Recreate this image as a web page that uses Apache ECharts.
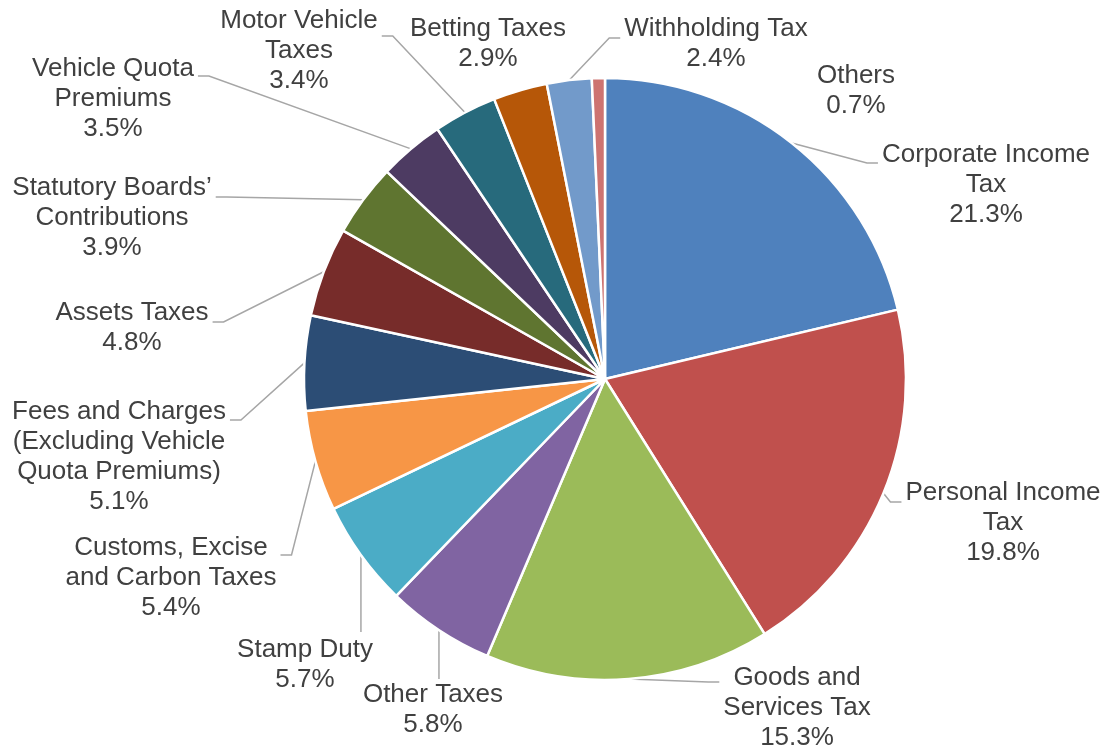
<!DOCTYPE html>
<html><head><meta charset="utf-8">
<script src="https://cdn.jsdelivr.net/npm/echarts@6/dist/echarts.min.js"></script>
<style>html,body{margin:0;padding:0;background:#fff}#c{width:1107px;height:754px}</style>
</head><body><div id="c"></div>
<script>
const categories = ["Corporate Income Tax","Personal Income Tax","Goods and Services Tax","Other Taxes","Stamp Duty","Customs, Excise and Carbon Taxes","Fees and Charges (Excluding Vehicle Quota Premiums)","Assets Taxes","Statutory Boards’ Contributions","Vehicle Quota Premiums","Motor Vehicle Taxes","Betting Taxes","Withholding Tax","Others"];
const labelTexts = ["Corporate Income\nTax","Personal Income\nTax","Goods and\nServices Tax","Other Taxes","Stamp Duty","Customs, Excise\nand Carbon Taxes","Fees and Charges\n(Excluding Vehicle\nQuota Premiums)","Assets Taxes","Statutory Boards’\nContributions","Vehicle Quota\nPremiums","Motor Vehicle\nTaxes","Betting Taxes","Withholding Tax","Others"];
const values = [21.3,19.8,15.3,5.8,5.7,5.4,5.1,4.8,3.9,3.5,3.4,2.9,2.4,0.7];
const colors = ["#4F81BD","#C0504D","#9BBB59","#8064A2","#4BACC6","#F79646","#2C4D75","#772C2A","#5F7530","#4D3B62","#276A7C","#B65708","#729ACA","#CD7371"];

// label placement (centre of each label block) and leader-line attachment (side, offset from first text line)
const labelCenters = [[986,185],[1003,523],[797,708],[433,710],[305,665],[171,578],[119,457],[132,328],[112,218],[113,99],[299,51],[488,44],[716,44],[856,91]];
const attach = [['left',8],['left',9],['left',4],['top',-16],['top',-18],['right',7],['right',8],['right',9],['right',9],['right',7],['right',15],null,['left',9],null];
const LINE_H = 30;

const chart = echarts.init(document.getElementById('c'));
chart.setOption({
  animation:false,
  series:[{
    type:'pie',
    center:[605,379],
    radius:301,
    startAngle:90,
    clockwise:true,
    avoidLabelOverlap:false,
    itemStyle:{borderColor:'#fff',borderWidth:2.5},
    label:{
      show:true,
      fontFamily:'Liberation Sans, Arial, sans-serif',
      fontSize:26,
      color:'#404040',
      lineHeight:LINE_H,
      align:'center',
      formatter:p=>labelTexts[p.dataIndex]+'\n'+p.value.toFixed(1)+'%'
    },
    labelLine:{show:true,length:10,length2:10,lineStyle:{color:'#a6a6a6',width:1.5}},
    labelLayout:function(params){
      const i = params.dataIndex;
      const c = labelCenters[i];
      const out = {x:c[0], y:c[1], align:'center', verticalAlign:'middle', hideOverlap:false};
      const a = attach[i];
      const pts = params.labelLinePoints;
      if (a && pts && pts.length) {
        const p0 = pts[0];
        const w = params.labelRect.width, h = params.labelRect.height;
        const top = c[1] - h/2;
        const firstLine = top + LINE_H/2;
        if (a[0] === 'left') {
          const ex = c[0] - w/2 - 4, ey = firstLine + a[1];
          out.labelLinePoints = [[p0[0],p0[1]],[ex-11,ey],[ex,ey]];
        } else if (a[0] === 'right') {
          const ex = c[0] + w/2 + 4, ey = firstLine + a[1];
          out.labelLinePoints = [[p0[0],p0[1]],[ex+11,ey],[ex,ey]];
        } else {
          const ey = firstLine + a[1];
          out.labelLinePoints = [[p0[0],p0[1]],[p0[0],(p0[1]+ey)/2],[p0[0],ey]];
        }
      }
      return out;
    },
    data:categories.map((c,i)=>({name:c,value:values[i],itemStyle:{color:colors[i]},labelLine:{show:attach[i]!==null}}))
  }]
});
</script></body></html>
